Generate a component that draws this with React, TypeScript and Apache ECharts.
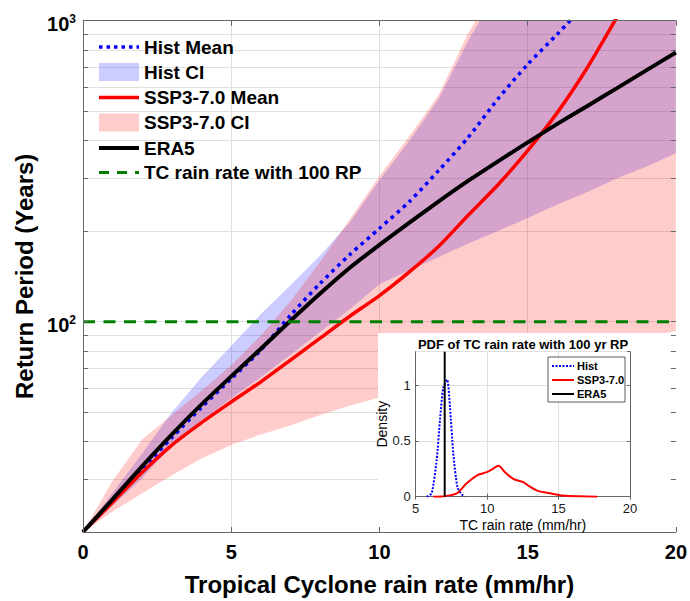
import React, { useEffect, useRef } from "react";
import * as echarts from "echarts";

// ---------- data ----------
const rainRate = [0, 1, 2, 3, 4, 5, 6, 7, 8, 9, 10, 11, 12, 13, 14, 15, 16, 17, 18, 19, 20];
const histMeanRP = [20, 25.4, 32.4, 41.2, 51.9, 64.6, 80.5, 105, 134, 167, 204, 250, 318, 410, 550, 716, 902, 1148];
const histCILow = [20, 24.5, 30.2, 38.9, 46.8, 55.6, 65.3, 77.6, 92.3, 110, 133, 148, 164, 182, 200, 221, 245, 269, 299, 327, 363];
const histCIHigh = [20, 27, 36.5, 50, 65.3, 83, 106, 132, 166, 214, 295, 398, 550, 861, 1259];
const sspMeanRP = [20, 25.1, 31.6, 38.9, 46.2, 54.1, 63.1, 74.5, 88.1, 104.2, 122, 146, 178, 226, 285, 370, 495, 695, 1023];
const sspCILow = [20, 23.4, 26.9, 30.9, 35.1, 38.9, 42.2, 45.2, 49, 52.5, 56, 58.9, 61.7, 65.3, 68.4, 71.9, 75.9, 79.4, 84.1, 88.5, 93.3];
const sspCIHigh = [20, 29.6, 40.7, 49, 58.9, 71.6, 90, 117, 158, 219, 305, 412, 568, 912, 1318];
const era5RP = [20, 25.7, 33.1, 42.2, 53.1, 65.8, 81.3, 100.7, 124, 151, 180, 213, 251, 294, 341, 394, 454, 520, 596, 684, 784];
const rp100 = 100;

const yGridValues = [30, 40, 50, 60, 70, 80, 90, 100, 200, 300, 400, 500, 600, 700, 800, 900];
const xGridValues = [5, 10, 15];

const pdfHistRate = [5.77, 6.12, 6.47, 6.7, 6.93, 7.21, 7.4, 7.63, 7.91, 8.22, 8.45];
const pdfHistDensity = [0, 0.03, 0.33, 0.69, 0.98, 1.05, 0.8, 0.39, 0.09, 0.02, 0];
const pdfSspRate = [6.23, 7.0, 7.87, 8.57, 9.27, 9.97, 10.4, 10.78, 11.25, 11.83, 12.53, 13.0, 13.6, 14.4, 15.3, 16.5, 17.7];
const pdfSspDensity = [0, 0.005, 0.03, 0.12, 0.19, 0.22, 0.25, 0.277, 0.22, 0.16, 0.13, 0.09, 0.05, 0.03, 0.01, 0.003, 0];
const era5Rate100 = 7.03;

const X_MIN = 0, X_MAX = 20, Y_MIN = 20, Y_MAX = 1000;
const FONT = "Liberation Sans, Arial, Helvetica, sans-serif";
const AXIS_COLOR = "#666666";
const GRID_COLOR = "#e0e0e0";

const zip = (xs: number[], ys: number[]) => ys.map((y, i) => [xs[i], y]);

function band(name: string, lo: number[], hi: number[], fill: string) {
  return {
    type: "custom",
    name,
    xAxisIndex: 0,
    yAxisIndex: 0,
    z: 2,
    clip: true,
    silent: true,
    data: [[0, Y_MIN]],
    renderItem: (params: any, api: any) => {
      const pts: number[][] = [];
      rainRate.forEach((x, i) => {
        const v = i < hi.length ? hi[i] : Y_MAX;
        pts.push(api.coord([x, v]));
      });
      for (let i = rainRate.length - 1; i >= 0; i--) {
        pts.push(api.coord([rainRate[i], lo[i]]));
      }
      return {
        type: "polygon",
        shape: { points: pts },
        style: { fill, stroke: "none" },
      };
    },
  };
}

function buildOption() {
  const labelRich = {
    b: { fontSize: 20, fontWeight: "bold", color: "#000", fontFamily: FONT, lineHeight: 21, verticalAlign: "bottom" },
    s: { fontSize: 12, fontWeight: "bold", color: "#000", fontFamily: FONT, lineHeight: 12, verticalAlign: "top", padding: [0, 0, 14, 0] },
  };
  const near = (a: number, b: number) => Math.abs(a - b) < 1e-6 * b;

  const gridLines: any[] = [
    ...yGridValues.map((v) => ({ yAxis: v })),
    ...xGridValues.map((v) => ({ xAxis: v })),
  ];
  const tickLines: any[] = [];
  yGridValues.forEach((v) => {
    tickLines.push([{ coord: [X_MIN, v] }, { coord: [X_MIN + 0.17, v] }]);
    tickLines.push([{ coord: [X_MAX - 0.17, v] }, { coord: [X_MAX, v] }]);
  });

  const legendRows = [
    { y: 47, kind: "line", color: "#0000ff", width: 3.5, dash: [3.5, 4], text: "Hist Mean" },
    { y: 72, kind: "rect", color: "rgba(0,0,255,0.2)", text: "Hist CI" },
    { y: 97.5, kind: "line", color: "#ff0000", width: 3.5, dash: null, text: "SSP3-7.0 Mean" },
    { y: 122.5, kind: "rect", color: "rgba(255,0,0,0.2)", text: "SSP3-7.0 CI" },
    { y: 148, kind: "line", color: "#000000", width: 4, dash: null, text: "ERA5" },
    { y: 172.5, kind: "line", color: "#008000", width: 3, dash: [10, 8], text: "TC rain rate with 100 RP" },
  ];
  const legendEls: any[] = [];
  legendRows.forEach((r: any) => {
    if (r.kind === "rect") {
      legendEls.push({ type: "rect", shape: { x: 99, y: r.y - 9, width: 40, height: 18 }, style: { fill: r.color }, z: 4, silent: true });
    } else {
      legendEls.push({
        type: "line",
        shape: { x1: 99, y1: r.y, x2: 139, y2: r.y },
        style: { stroke: r.color, lineWidth: r.width, lineDash: r.dash || undefined },
        z: 4,
        silent: true,
      });
    }
    legendEls.push({
      type: "text",
      x: 144,
      y: r.y,
      style: { text: r.text, fontSize: 19, fontWeight: "bold", fontFamily: FONT, fill: "#000", textVerticalAlign: "middle", textAlign: "left" },
      z: 4,
      silent: true,
    });
  });

  const insetLegendRows = [
    { y: 366, color: "#0000ff", dash: [2, 1.5], text: "Hist" },
    { y: 380, color: "#ff0000", dash: null, text: "SSP3-7.0" },
    { y: 394, color: "#000000", dash: null, text: "ERA5" },
  ];
  const insetEls: any[] = [
    { type: "rect", shape: { x: 378, y: 333, width: 297, height: 200.5 }, style: { fill: "#ffffff" }, z: 5, silent: true },
    {
      type: "text",
      x: 523,
      y: 344,
      style: { text: "PDF of TC rain rate with 100 yr RP", fontSize: 13, fontWeight: "bold", fontFamily: FONT, fill: "#000", textAlign: "center", textVerticalAlign: "middle" },
      z: 9,
      silent: true,
    },
    { type: "rect", shape: { x: 548, y: 357, width: 77, height: 45 }, style: { fill: "#ffffff", stroke: "#333", lineWidth: 0.8 }, z: 10, silent: true },
  ];
  insetLegendRows.forEach((r: any) => {
    insetEls.push({
      type: "line",
      shape: { x1: 552, y1: r.y, x2: 574, y2: r.y },
      style: { stroke: r.color, lineWidth: 2, lineDash: r.dash || undefined },
      z: 11,
      silent: true,
    });
    insetEls.push({
      type: "text",
      x: 577,
      y: r.y,
      style: { text: r.text, fontSize: 11, fontWeight: "bold", fontFamily: FONT, fill: "#000", textVerticalAlign: "middle" },
      z: 11,
      silent: true,
    });
  });

  const boxAxisCommon = { axisLine: { show: true, lineStyle: { color: AXIS_COLOR, width: 1 } } };

  return {
    animation: false,
    backgroundColor: "#ffffff",
    grid: [
      { left: 83, top: 20.7, width: 593.7, height: 513.6 },
      { left: 415.7, top: 351.7, width: 214.3, height: 145 },
    ],
    xAxis: [
      {
        gridIndex: 0, type: "value", min: X_MIN, max: X_MAX, interval: 5, position: "bottom", z: 6,
        ...boxAxisCommon,
        axisTick: { show: true, inside: true, length: 5, lineStyle: { color: AXIS_COLOR } },
        axisLabel: { fontSize: 20, fontWeight: "bold", color: "#000", fontFamily: FONT, margin: 10 },
        splitLine: { show: false },
        name: "Tropical Cyclone rain rate (mm/hr)",
        nameLocation: "middle",
        nameGap: 40,
        nameTextStyle: { fontSize: 24, fontWeight: "bold", color: "#000", fontFamily: FONT },
      },
      {
        gridIndex: 0, type: "value", min: X_MIN, max: X_MAX, interval: 5, position: "top", z: 6,
        ...boxAxisCommon,
        axisTick: { show: true, inside: true, length: 5, lineStyle: { color: AXIS_COLOR } },
        axisLabel: { show: false },
        splitLine: { show: false },
      },
      {
        gridIndex: 1, type: "value", min: 5, max: 20, interval: 5, position: "bottom", z: 8,
        ...boxAxisCommon,
        axisTick: { show: true, inside: true, length: 3, lineStyle: { color: AXIS_COLOR } },
        axisLabel: { fontSize: 13, color: "#1a1a1a", fontFamily: FONT, margin: 5 },
        splitLine: { show: true, lineStyle: { color: GRID_COLOR, width: 1 } },
        name: "TC rain rate (mm/hr)",
        nameLocation: "middle",
        nameGap: 21,
        nameTextStyle: { fontSize: 14, color: "#000", fontFamily: FONT },
      },
      {
        gridIndex: 1, type: "value", min: 5, max: 20, interval: 5, position: "top", z: 8,
        ...boxAxisCommon,
        axisTick: { show: true, inside: true, length: 3, lineStyle: { color: AXIS_COLOR } },
        axisLabel: { show: false },
        splitLine: { show: false },
      },
    ],
    yAxis: [
      {
        gridIndex: 0, type: "log", logBase: 10, min: Y_MIN, max: Y_MAX, position: "left", z: 6,
        ...boxAxisCommon,
        axisTick: { show: false },
        splitLine: { show: false },
        axisLabel: {
          margin: 7,
          padding: [6, 0, 0, 0],
          formatter: (v: number) => (near(v, 100) ? "{b|10}{s|2}" : near(v, 1000) ? "{b|10}{s|3}" : ""),
          rich: labelRich,
        },
        name: "Return Period (Years)",
        nameLocation: "middle",
        nameRotate: 90,
        nameGap: 46,
        nameTextStyle: { fontSize: 24, fontWeight: "bold", color: "#000", fontFamily: FONT },
      },
      {
        gridIndex: 0, type: "log", logBase: 10, min: Y_MIN, max: Y_MAX, position: "right", z: 6,
        ...boxAxisCommon,
        axisTick: { show: false },
        splitLine: { show: false },
        axisLabel: { show: false },
      },
      {
        gridIndex: 1, type: "value", min: 0, max: 1.3, interval: 0.5, position: "left", z: 8,
        ...boxAxisCommon,
        axisTick: { show: true, inside: true, length: 3, lineStyle: { color: AXIS_COLOR } },
        axisLabel: { fontSize: 13, color: "#1a1a1a", fontFamily: FONT, margin: 5, showMaxLabel: false, formatter: (v: number) => (v > 1.2 ? "" : String(v)) },
        splitLine: { show: true, lineStyle: { color: GRID_COLOR, width: 1 } },
        name: "Density",
        nameLocation: "middle",
        nameRotate: 90,
        nameGap: 22,
        nameTextStyle: { fontSize: 14, color: "#000", fontFamily: FONT },
      },
      {
        gridIndex: 1, type: "value", min: 0, max: 1.3, interval: 0.5, position: "right", z: 8,
        ...boxAxisCommon,
        axisTick: { show: true, inside: true, length: 3, lineStyle: { color: AXIS_COLOR } },
        axisLabel: { show: false },
        splitLine: { show: false },
      },
    ],
    graphic: [...legendEls, ...insetEls],
    series: [
      {
        type: "line",
        name: "gridlines",
        xAxisIndex: 0,
        yAxisIndex: 0,
        z: 1,
        data: [[X_MIN, Y_MIN]],
        symbol: "none",
        lineStyle: { opacity: 0 },
        silent: true,
        markLine: {
          z: 1,
          silent: true,
          symbol: ["none", "none"],
          label: { show: false },
          lineStyle: { color: GRID_COLOR, width: 1, type: "solid" },
          data: gridLines,
        },
      },
      band("Hist CI", histCILow, histCIHigh, "rgba(0,0,255,0.2)"),
      band("SSP3-7.0 CI", sspCILow, sspCIHigh, "rgba(255,0,0,0.2)"),
      {
        type: "line", name: "Hist Mean", xAxisIndex: 0, yAxisIndex: 0, z: 3,
        data: zip(rainRate, histMeanRP), symbol: "none", clip: true, smooth: 0.25,
        lineStyle: { color: "#0000ff", width: 3.5, type: [3.5, 4.5], cap: "butt" },
      },
      {
        type: "line", name: "SSP3-7.0 Mean", xAxisIndex: 0, yAxisIndex: 0, z: 3,
        data: zip(rainRate, sspMeanRP), symbol: "none", clip: true, smooth: 0.25,
        lineStyle: { color: "#ff0000", width: 3.5 },
      },
      {
        type: "line", name: "ERA5", xAxisIndex: 0, yAxisIndex: 0, z: 3,
        data: zip(rainRate, era5RP), symbol: "none", clip: true, smooth: 0.25,
        lineStyle: { color: "#000000", width: 4 },
      },
      {
        type: "line", name: "TC rain rate with 100 RP", xAxisIndex: 0, yAxisIndex: 0, z: 3,
        data: [[X_MIN, rp100], [X_MAX, rp100]], symbol: "none",
        lineStyle: { color: "#008000", width: 3, type: [12, 8.5] },
      },
      {
        type: "line",
        name: "ticks",
        xAxisIndex: 0,
        yAxisIndex: 0,
        z: 6,
        data: [[X_MIN, Y_MIN]],
        symbol: "none",
        lineStyle: { opacity: 0 },
        silent: true,
        markLine: {
          z: 6,
          silent: true,
          symbol: ["none", "none"],
          label: { show: false },
          lineStyle: { color: AXIS_COLOR, width: 1, type: "solid" },
          data: tickLines,
        },
      },
      {
        type: "line", name: "PDF Hist", xAxisIndex: 2, yAxisIndex: 2, z: 9,
        data: zip(pdfHistRate, pdfHistDensity), symbol: "none", smooth: 0.2,
        lineStyle: { color: "#0000ff", width: 2, type: [2, 1.5] },
      },
      {
        type: "line", name: "PDF SSP3-7.0", xAxisIndex: 2, yAxisIndex: 2, z: 9,
        data: zip(pdfSspRate, pdfSspDensity), symbol: "none", smooth: 0.3,
        lineStyle: { color: "#ff0000", width: 2 },
      },
      {
        type: "line", name: "PDF ERA5", xAxisIndex: 2, yAxisIndex: 2, z: 9,
        data: [[era5Rate100, 0], [era5Rate100, 1.3]], symbol: "none",
        lineStyle: { color: "#000000", width: 2 },
      },
    ],
  };
}

export default function App() {
  const ref = useRef<HTMLDivElement>(null);
  useEffect(() => {
    if (!ref.current) return;
    const chart = echarts.init(ref.current, null, { renderer: "svg" });
    chart.setOption(buildOption() as any);
    return () => chart.dispose();
  }, []);
  return <div ref={ref} style={{ position: "absolute", left: 0, top: 0, width: 690, height: 601 }} />;
}
